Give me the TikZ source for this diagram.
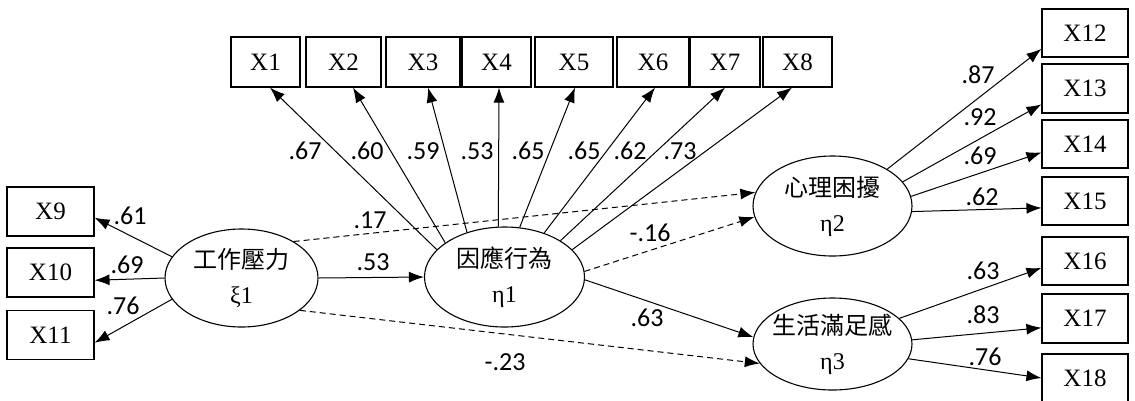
\documentclass[tikz,border=0pt]{standalone}
\usepackage{fontspec}
\setmainfont{Liberation Serif}
\newfontfamily\cjk{Noto Sans CJK TC}
\newfontfamily\numfont{Carlito}
\usetikzlibrary{arrows.meta,shapes.geometric}

\tikzset{
  obs/.style={draw, line width=1.1pt, minimum height=49pt, inner sep=0pt, font=\fontsize{25}{30}\selectfont},
  latent/.style={draw, ellipse, line width=1.1pt, inner sep=0pt},
  lattext/.style={align=center, inner sep=0pt, font=\fontsize{24}{35}\selectfont},
  arr/.style={line width=1pt, -{Latex[length=15pt,width=11pt]}},
  dasharr/.style={arr, dash pattern=on 6pt off 4pt},
  coef/.style={inner sep=0pt, font=\numfont\fontsize{26}{30}\selectfont}
}

\begin{document}
\begin{tikzpicture}[x=1pt,y=-1pt]
    \useasboundingbox (0,0) rectangle (1135,400);

    % Latent variables
    \node[latent, minimum width=153pt, minimum height=98pt,
      label={[lattext]center:{{\cjk 工作壓力}\\ξ1}}] (xi1) at (241.5,278) {};
    \node[latent, minimum width=160pt, minimum height=100pt,
      label={[lattext]center:{{\cjk 因應行為}\\η1}}] (eta1) at (504.5,277) {};
    \node[latent, minimum width=159pt, minimum height=100pt,
      label={[lattext]center:{{\cjk 心理困擾}\\η2}}] (eta2) at (832.5,206) {};
    \node[latent, minimum width=159pt, minimum height=92pt,
      label={[lattext]center:{{\cjk 生活滿足感}\\η3}}] (eta3) at (832.5,344) {};

    % Indicators of eta1
    \foreach \i/\x/\w/\a/\s/\v/\lx in {1/265.5/69/158/4.5/.67/305, 2/343.5/75/150/9.5/.60/367,
        3/423/74/130/5/.59/423, 4/496.5/69/97/2.5/.53/477, 5/574/78/73/1/.65/528,
        6/653/72/48.5/2/.65/584, 7/725/70/33/0/.62/630, 8/797.5/69/22/-5.5/.73/680}
    {
      \node[obs, minimum width=\w pt, minimum height=50pt] (X\i) at (\x,62) {X\i};
      \draw[arr] (eta1.\a) -- ([xshift=\s pt]X\i.south);
      \node[coef] (c\i) at (\lx,151) {\v};
    }

    % Indicators of xi1
    \foreach \i/\y/\a/\b/\v/\lx/\ly in {9/211.5/163/352/.61/130/216,
        10/272.5/180/350.6/.69/127/265, 11/335/197/350/.76/123/306}
    {
      \node[obs, minimum width=87pt] (X\i) at (50.5,\y) {X\i};
      \draw[arr] (xi1.\a) -- (X\i.\b);
      \node[coef] (c\i) at (\lx,\ly) {\v};
    }

    % Indicators of eta2 and eta3
    \foreach \i/\y/\h/\e/\a/\b/\v/\lx/\ly in {12/33/48/eta2/34.6/200/.87/978/75,
        13/88.5/49/eta2/19.2/200/.92/980/117, 14/144/48/eta2/7.2/191/.69/980/156,
        15/201/48/eta2/356/189/.62/982/197, 16/261/48/eta3/21.4/189/.63/983/271,
        17/318.5/49/eta3/3.6/192.5/.83/983/315, 18/378/48/eta3/349/180/.76/985/357}
    {
      \node[obs, minimum width=86pt, minimum height=\h pt] (X\i) at (1085,\y) {X\i};
      \draw[arr] (\e.\a) -- (X\i.\b);
      \node[coef] (c\i) at (\lx,\ly) {\v};
    }

    % Structural paths
    \draw[arr] (xi1.east) -- (eta1.west);
    \node[coef] (p1) at (373,262) {.53};
    \draw[dasharr] (xi1.35) -- (eta2.170);
    \node[coef] (p2) at (370,220) {.17};
    \draw[dasharr] (xi1.331) -- (eta3.195);
    \node[coef] (p3) at (505,362) {-.23};
    \draw[dasharr] (eta1.4) -- (eta2.188);
    \node[coef] (p4) at (650,233) {-.16};
    \draw[arr] (eta1.-2) -- (eta3.175);
    \node[coef] (p5) at (647,318) {.63};
\end{tikzpicture}
\end{document}
